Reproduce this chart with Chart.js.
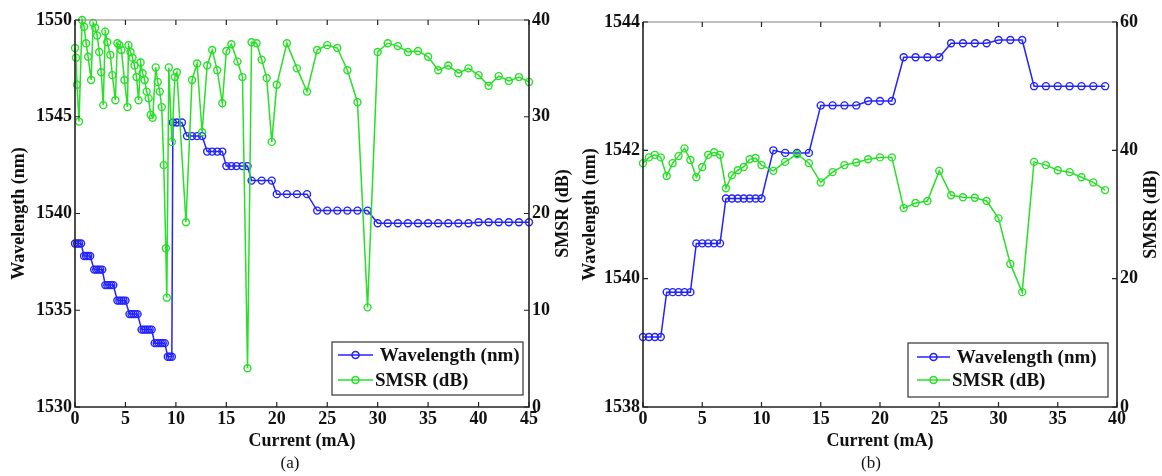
<!DOCTYPE html>
<html>
<head>
<meta charset="UTF-8">
<title>Wavelength and SMSR versus current</title>
<script src="https://cdn.jsdelivr.net/npm/chart.js"></script>
<style>
  body { margin: 0; background: #fff; }
  canvas { position: absolute; top: 0; }
  #panelA { left: 0; }
  #panelB { left: 580px; }
</style>
</head>
<body>
<canvas id="panelA" width="580" height="476"></canvas>
<canvas id="panelB" width="582" height="476"></canvas>
<script>
// ---- panel (a) ----
const currentA_wl = [0, 0.2, 0.4, 0.6, 0.9, 1.1, 1.3, 1.5, 1.9, 2.1, 2.3, 2.5, 2.7,
  3.0, 3.2, 3.4, 3.6, 3.8, 4.2, 4.4, 4.6, 4.8, 5.0, 5.4, 5.6, 5.8, 6.0, 6.2,
  6.6, 6.8, 7.0, 7.2, 7.4, 7.6, 7.9, 8.1, 8.3, 8.5, 8.7, 8.9, 9.2, 9.4, 9.6,
  9.7, 10.1, 10.6, 11.1, 11.6, 12.1, 12.6, 13.1, 13.6, 14.1, 14.6,
  15.0, 15.5, 16.0, 16.6, 17.1, 17.5, 18.5, 19.5, 20, 21, 22, 23,
  24, 25, 26, 27, 28, 29, 30, 31, 32, 33, 34, 35, 36, 37, 38, 39, 40, 41, 42, 43, 44, 45];
const wavelengthA = [1538.45, 1538.45, 1538.45, 1538.45, 1537.8, 1537.8, 1537.8, 1537.8,
  1537.1, 1537.1, 1537.1, 1537.1, 1537.1, 1536.3, 1536.3, 1536.3, 1536.3, 1536.3,
  1535.5, 1535.5, 1535.5, 1535.5, 1535.5, 1534.8, 1534.8, 1534.8, 1534.8, 1534.8,
  1534.0, 1534.0, 1534.0, 1534.0, 1534.0, 1534.0, 1533.3, 1533.3, 1533.3, 1533.3, 1533.3, 1533.3,
  1532.6, 1532.6, 1532.6, 1544.7, 1544.7, 1544.7, 1544.0, 1544.0, 1544.0, 1544.0,
  1543.2, 1543.2, 1543.2, 1543.2, 1542.45, 1542.45, 1542.45, 1542.45, 1542.45,
  1541.7, 1541.7, 1541.7, 1541.0, 1541.0, 1541.0, 1541.0,
  1540.15, 1540.15, 1540.15, 1540.15, 1540.15, 1540.15,
  1539.5, 1539.5, 1539.5, 1539.5, 1539.5, 1539.5, 1539.5, 1539.5, 1539.5, 1539.5,
  1539.55, 1539.55, 1539.55, 1539.55, 1539.55, 1539.55];
const currentA_smsr = [0, 0.1, 0.2, 0.4, 0.7, 0.9, 1.1, 1.3, 1.6, 1.8, 2.0, 2.2, 2.4, 2.6, 2.8,
  3.0, 3.2, 3.5, 3.7, 4.0, 4.2, 4.4, 4.6, 4.9, 5.2, 5.3, 5.5, 5.7, 5.9, 6.1, 6.3,
  6.5, 6.7, 6.9, 7.1, 7.3, 7.5, 7.7, 8.0, 8.2, 8.4, 8.6, 8.8, 9.0, 9.1, 9.3, 9.6, 9.9,
  10.1, 11.0, 11.6, 12.1, 12.6, 13.1, 13.6, 14.1, 14.6, 15.0, 15.5, 16.1, 16.6, 17.1,
  17.5, 18.0, 18.5, 19.0, 19.5, 20, 21, 22, 23, 24, 25, 26, 27, 28, 29,
  30, 31, 32, 33, 34, 35, 36, 37, 38, 39, 40, 41, 42, 43, 44, 45];
const smsrA = [37.1, 36.1, 33.3, 29.5, 40.0, 39.3, 37.6, 36.2, 33.8, 39.7, 39.2, 38.4, 36.7, 34.6, 31.2,
  38.8, 37.7, 36.4, 34.3, 31.7, 37.6, 37.4, 36.9, 33.8, 31.0, 37.4, 36.7, 36.1, 35.3, 34.1, 31.7,
  35.6, 34.5, 33.8, 32.6, 31.9, 30.2, 29.9, 35.1, 33.6, 32.6, 31.0, 25.0, 16.4, 11.3, 35.1, 27.4, 34.1,
  34.6, 19.1, 33.8, 35.5, 28.4, 35.3, 36.9, 34.8, 31.4, 36.8, 37.5, 35.7, 34.1, 4.0,
  37.7, 37.6, 35.9, 34.0, 27.4, 33.3, 37.6, 35.0, 32.6, 36.9, 37.4, 37.1, 34.8, 31.5, 10.3,
  36.7, 37.6, 37.3, 36.7, 36.8, 36.2, 34.8, 35.3, 34.5, 35.0, 34.3, 33.2, 34.2, 33.7, 34.1, 33.6];

// ---- panel (b) ----
const currentB = [0, 0.5, 1, 1.5, 2, 2.5, 3, 3.5, 4, 4.5, 5, 5.5, 6, 6.5, 7, 7.5, 8, 8.5, 9, 9.5, 10,
  11, 12, 13, 14, 15, 16, 17, 18, 19, 20, 21, 22, 23, 24, 25, 26, 27, 28, 29,
  30, 31, 32, 33, 34, 35, 36, 37, 38, 39];
const wavelengthB = [1539.09, 1539.09, 1539.09, 1539.09, 1539.79, 1539.79, 1539.79, 1539.79, 1539.79,
  1540.55, 1540.55, 1540.55, 1540.55, 1540.55, 1541.25, 1541.25, 1541.25, 1541.25, 1541.25, 1541.25, 1541.25,
  1542.0, 1541.96, 1541.96, 1541.96, 1542.7, 1542.7, 1542.7, 1542.7, 1542.77, 1542.77, 1542.77,
  1543.45, 1543.45, 1543.45, 1543.45, 1543.67, 1543.67, 1543.67, 1543.67, 1543.72, 1543.72, 1543.72,
  1543.0, 1543.0, 1543.0, 1543.0, 1543.0, 1543.0, 1543.0];
const smsrB = [38.0, 38.9, 39.3, 38.9, 36.0, 38.0, 39.1, 40.3, 38.5, 35.8, 37.4, 39.3, 39.7, 39.3,
  34.1, 36.1, 36.9, 37.4, 38.6, 38.8, 37.7, 36.8, 38.2, 39.4, 38.0, 35.0, 36.6, 37.7, 38.1, 38.6,
  38.9, 38.9, 31.0, 31.8, 32.1, 36.8, 33.0, 32.7, 32.6, 32.1, 29.4, 22.3, 17.9,
  38.2, 37.7, 36.9, 36.6, 35.8, 35.0, 33.8];

const BLUE = '#2323ff';
const GREEN = '#27e027';

Chart.defaults.font.family = "'Liberation Serif', 'Times New Roman', serif";
Chart.defaults.font.size = 18;
Chart.defaults.font.weight = 'bold';
Chart.defaults.color = '#111';

// box frame with inward tick marks (left ticks from y, right ticks from y1)
const frame = {
  id: 'frame',
  afterDatasetsDraw(chart) {
    const { ctx, chartArea: a, scales } = chart;
    const len = 5;
    ctx.save();
    ctx.strokeStyle = '#808080';
    ctx.lineWidth = 1;
    ctx.beginPath();
    ctx.moveTo(a.left, a.top);
    ctx.lineTo(a.right, a.top);
    ctx.stroke();
    ctx.strokeStyle = '#222';
    ctx.lineWidth = 1.6;
    ctx.beginPath();
    ctx.moveTo(a.left, a.top);
    ctx.lineTo(a.left, a.bottom);
    ctx.lineTo(a.right, a.bottom);
    ctx.lineTo(a.right, a.top);
    ctx.stroke();
    ctx.lineWidth = 1.2;
    ctx.beginPath();
    scales.x.ticks.forEach(t => {
      const px = scales.x.getPixelForValue(t.value);
      ctx.moveTo(px, a.bottom); ctx.lineTo(px, a.bottom - len);
      ctx.moveTo(px, a.top); ctx.lineTo(px, a.top + len);
    });
    scales.y.ticks.forEach(t => {
      const py = scales.y.getPixelForValue(t.value);
      ctx.moveTo(a.left, py); ctx.lineTo(a.left + len, py);
    });
    scales.y1.ticks.forEach(t => {
      const py = scales.y1.getPixelForValue(t.value);
      ctx.moveTo(a.right, py); ctx.lineTo(a.right - len, py);
    });
    ctx.stroke();
    ctx.restore();
  }
};

// right axis title, rotated the same way as the left one
const rightTitle = {
  id: 'rightTitle',
  afterDraw(chart, args, opts) {
    const { ctx, chartArea: a } = chart;
    ctx.save();
    ctx.font = 'bold 18px ' + Chart.defaults.font.family;
    ctx.fillStyle = '#111';
    ctx.textAlign = 'center';
    ctx.textBaseline = 'middle';
    ctx.translate(a.right + opts.offset, (a.top + a.bottom) / 2);
    ctx.rotate(-Math.PI / 2);
    ctx.fillText(opts.text, 0, 0);
    ctx.restore();
  }
};

// boxed legend in the lower right corner of the plot
const boxLegend = {
  id: 'boxLegend',
  afterDraw(chart, args, opts) {
    const { ctx, chartArea: a } = chart;
    const x0 = a.right - opts.right - opts.width;
    const y0 = a.bottom - opts.bottom - opts.height;
    ctx.save();
    ctx.fillStyle = '#fff';
    ctx.fillRect(x0, y0, opts.width, opts.height);
    ctx.strokeStyle = '#333';
    ctx.lineWidth = 1.2;
    ctx.strokeRect(x0, y0, opts.width, opts.height);
    ctx.font = 'bold 19px ' + Chart.defaults.font.family;
    ctx.textBaseline = 'middle';
    ctx.fillStyle = '#111';
    opts.order.forEach((di, row) => {
      const ds = chart.data.datasets[di];
      const y = y0 + opts.rows[row];
      const xa = x0 + opts.sample[0], xb = x0 + opts.sample[1];
      ctx.strokeStyle = ds.borderColor;
      ctx.lineWidth = 1.6;
      ctx.beginPath();
      ctx.moveTo(xa, y); ctx.lineTo(xb, y);
      ctx.stroke();
      ctx.beginPath();
      ctx.arc((xa + xb) / 2, y, 3.5, 0, Math.PI * 2);
      ctx.stroke();
      ctx.fillText(ds.label, xb + 2, y + 1);
    });
    ctx.restore();
  }
};

function pairs(xs, ys) {
  return xs.map((x, i) => ({ x: x, y: ys[i] }));
}

function makePanel(id, cfg) {
  const noComma = v => String(v);
  const bare = { display: false, drawTicks: false };
  return new Chart(document.getElementById(id), {
    type: 'line',
    data: {
      datasets: [
        { label: ' Wavelength (nm)', data: cfg.wl, yAxisID: 'y', order: 1,
          borderColor: BLUE, borderWidth: 1.5, pointBorderColor: BLUE,
          pointBackgroundColor: 'rgba(255,255,255,0)', pointRadius: 3.5,
          pointBorderWidth: 1.4, tension: 0, clip: false },
        { label: 'SMSR (dB)', data: cfg.smsr, yAxisID: 'y1', order: 0,
          borderColor: GREEN, borderWidth: 1.5, pointBorderColor: GREEN,
          pointBackgroundColor: 'rgba(255,255,255,0)', pointRadius: 3.5,
          pointBorderWidth: 1.4, tension: 0, clip: false }
      ]
    },
    options: {
      responsive: false,
      animation: false,
      events: [],
      layout: { padding: { top: cfg.top, left: 0, right: 0, bottom: 0 } },
      scales: {
        x: {
          type: 'linear', min: 0, max: cfg.xMax,
          ticks: { stepSize: 5, padding: 2, maxRotation: 0, callback: noComma },
          grid: bare, border: { display: false },
          title: { display: true, text: 'Current (mA)', padding: { top: 0, bottom: 1 } },
          afterFit: s => { s.height = 46.6; }
        },
        y: {
          type: 'linear', position: 'left', min: cfg.wlMin, max: cfg.wlMax,
          ticks: { stepSize: cfg.wlStep, padding: 3, callback: noComma },
          grid: bare, border: { display: false },
          title: { display: true, text: 'Wavelength (nm)', padding: { top: cfg.ltPad, bottom: 0 } },
          afterFit: s => { s.width = cfg.leftW; }
        },
        y1: {
          type: 'linear', position: 'right', min: 0, max: cfg.smsrMax,
          ticks: { stepSize: cfg.smsrStep, padding: 3, callback: noComma },
          grid: bare, border: { display: false },
          afterFit: s => { s.width = cfg.rightW; }
        }
      },
      plugins: {
        legend: { display: false },
        tooltip: { enabled: false },
        subtitle: {
          display: true, position: 'bottom', text: cfg.tag,
          font: { size: 17, weight: 'normal' }, color: '#111',
          padding: { top: 0, bottom: 2 }
        },
        rightTitle: { text: 'SMSR (dB)', offset: cfg.rtOffset },
        boxLegend: cfg.legend
      }
    },
    plugins: [frame, rightTitle, boxLegend]
  });
}

makePanel('panelA', {
  wl: pairs(currentA_wl, wavelengthA),
  smsr: pairs(currentA_smsr, smsrA),
  top: 20, xMax: 45, wlMin: 1530, wlMax: 1550, wlStep: 5, smsrMax: 40, smsrStep: 10,
  leftW: 75, rightW: 51, ltPad: 8.2, rtOffset: 34, tag: '(a)',
  legend: { right: 6, bottom: 12, width: 191, height: 53, rows: [13, 38], sample: [6, 41], order: [0, 1] }
});

makePanel('panelB', {
  wl: pairs(currentB, wavelengthB),
  smsr: pairs(currentB, smsrB),
  top: 22, xMax: 40, wlMin: 1538, wlMax: 1544, wlStep: 2, smsrMax: 60, smsrStep: 20,
  leftW: 63, rightW: 45, ltPad: 0, rtOffset: 34, tag: '(b)',
  legend: { right: 9, bottom: 10, width: 200, height: 54, rows: [14, 37], sample: [9, 42], order: [0, 1] }
});
</script>
</body>
</html>
